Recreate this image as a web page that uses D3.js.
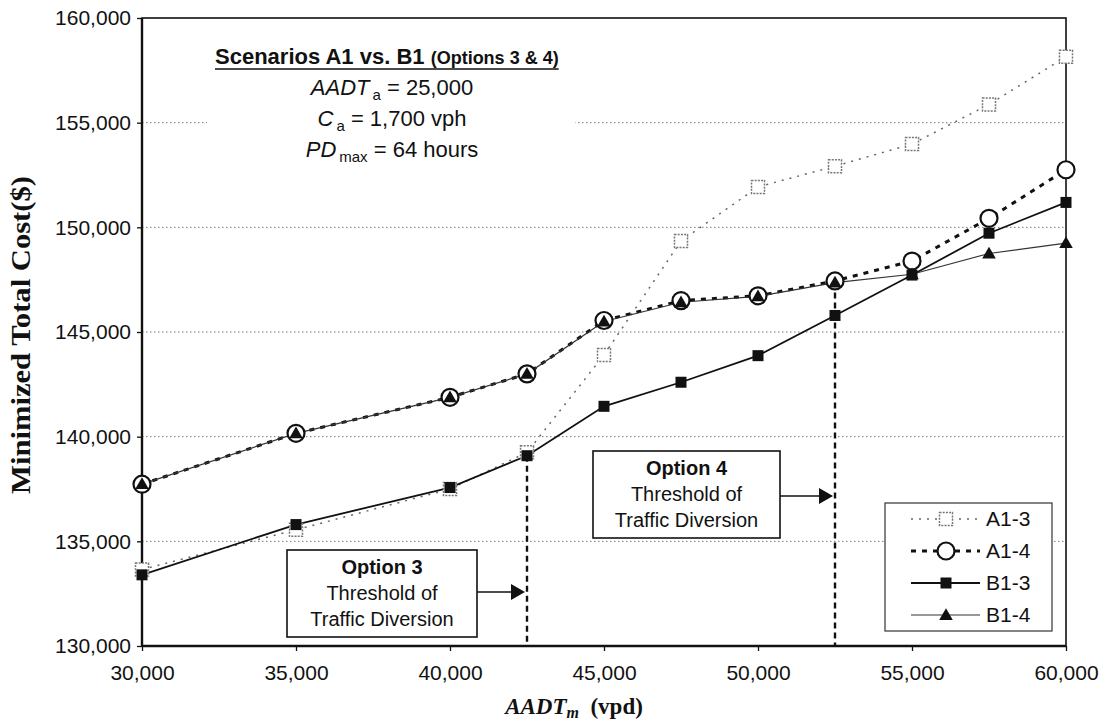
<!DOCTYPE html>
<html><head><meta charset="utf-8">
<script src="https://cdn.jsdelivr.net/npm/d3@7"></script>
<style>body{margin:0;background:#fff}</style>
</head><body>
<svg id="chart" width="1111" height="725"></svg>
<script>
// ---- data ----
const xValues  = [30000,35000,40000,42500,45000,47500,50000,52500,55000,57500,60000];
const seriesA13 = [133650,135550,137500,139250,143900,149350,151930,152920,153980,155870,158150];
const seriesA14 = [137730,140160,141880,143000,145550,146500,146730,147440,148390,150430,152750];
const seriesB13 = [133400,135800,137570,139090,141450,142600,143870,145790,147720,149720,151190];
const seriesB14 = [137730,140160,141880,143000,145500,146420,146700,147360,147760,148750,149250];
const seriesNames = ["A1-3","A1-4","B1-3","B1-4"];
const xTicks = [30000,35000,40000,45000,50000,55000,60000];
const yTicks = [130000,135000,140000,145000,150000,155000,160000];
const thresholdX = [42500, 52500];
const thresholdY = [139090, 147360];
const optionTitles = ["Option 3","Option 4"];
const optionLines = ["Threshold of","Traffic Diversion"];

// ---- layout ----
const sans = "'Liberation Sans', Arial, sans-serif";
const serif = "'Liberation Serif', 'Times New Roman', serif";
const L = 142, R = 1066, T = 18, B = 646;
const svg = d3.select("#chart");
const x = d3.scaleLinear().domain([30000,60000]).range([L,R]);
const y = d3.scaleLinear().domain([130000,160000]).range([B,T]);

// gridlines
svg.append("g").selectAll("line").data(yTicks.slice(1,-1)).join("line")
  .attr("x1",L).attr("x2",R).attr("y1",d=>y(d)).attr("y2",d=>y(d))
  .attr("stroke","#777").attr("stroke-width",1).attr("stroke-dasharray","1.5,2.5");

// title block background (covers gridline)
svg.append("rect").attr("x",207).attr("y",32).attr("width",368).attr("height",135).attr("fill","#fff");

// axes
const xAxis = svg.append("g").attr("transform",`translate(0,${B})`)
  .call(d3.axisBottom(x).tickValues(xTicks).tickFormat(d3.format(",")).tickSize(5).tickPadding(14));
const yAxis = svg.append("g").attr("transform",`translate(${L},0)`)
  .call(d3.axisLeft(y).tickValues(yTicks).tickFormat(d3.format(",")).tickSize(5).tickPadding(6));
[xAxis,yAxis].forEach(g=>{
  g.select(".domain").remove();
  g.selectAll("text").attr("font-family",sans).attr("font-size",21).attr("fill","#111");
  g.selectAll("line").attr("stroke","#111").attr("stroke-width",1.3);
});

// frame
svg.append("rect").attr("x",L).attr("y",T).attr("width",R-L).attr("height",B-T)
  .attr("fill","none").attr("stroke","#111").attr("stroke-width",1.6);
svg.append("line").attr("x1",L).attr("x2",L).attr("y1",T).attr("y2",B).attr("stroke","#111").attr("stroke-width",2.4);
svg.append("line").attr("x1",L).attr("x2",R).attr("y1",B).attr("y2",B).attr("stroke","#111").attr("stroke-width",2.4);

// axis titles
svg.append("text").attr("transform","translate(30,335) rotate(-90)").attr("text-anchor","middle")
  .attr("font-family",serif).attr("font-weight","bold").attr("font-size",27).attr("fill","#111")
  .attr("textLength",318).attr("lengthAdjust","spacingAndGlyphs")
  .text("Minimized Total Cost($)");
const xt = svg.append("text").attr("x",574).attr("y",714).attr("text-anchor","middle")
  .attr("font-family",serif).attr("font-weight","bold").attr("font-size",23).attr("fill","#111");
xt.append("tspan").attr("font-style","italic").text("AADT");
xt.append("tspan").attr("font-style","italic").attr("font-size",16).attr("dy",4).text("m");
xt.append("tspan").attr("dy",-4).text("\u00a0\u00a0(vpd)");

// threshold dashed lines
svg.append("g").selectAll("line").data(thresholdX).join("line")
  .attr("x1",d=>x(d)).attr("x2",d=>x(d)).attr("y1",(d,i)=>y(thresholdY[i])).attr("y2",B)
  .attr("stroke","#111").attr("stroke-width",2.4).attr("stroke-dasharray","6,4");

// series
const series = [
  {name:seriesNames[0], v:seriesA13, stroke:"#666", sw:1.5, dash:"2,6"},
  {name:seriesNames[1], v:seriesA14, stroke:"#111", sw:3, dash:"5,6"},
  {name:seriesNames[2], v:seriesB13, stroke:"#111", sw:1.8, dash:null},
  {name:seriesNames[3], v:seriesB14, stroke:"#333", sw:1.2, dash:null},
];
const line = d3.line().x(d=>x(d[0])).y(d=>y(d[1]));
series.forEach(s=>{
  svg.append("path").datum(xValues.map((xv,i)=>[xv,s.v[i]]))
    .attr("d",line).attr("fill","none").attr("stroke",s.stroke).attr("stroke-width",s.sw)
    .attr("stroke-dasharray",s.dash);
});
function marker(g, k, cx, cy){
  if(k===0) g.append("rect").attr("x",cx-6.5).attr("y",cy-6.5).attr("width",13).attr("height",13)
      .attr("fill","#fff").attr("stroke","#777").attr("stroke-width",1.5).attr("stroke-dasharray","2,1.2");
  else if(k===1) g.append("circle").attr("cx",cx).attr("cy",cy).attr("r",8.5)
      .attr("fill","#fff").attr("stroke","#111").attr("stroke-width",2.2);
  else if(k===2) g.append("rect").attr("x",cx-5.5).attr("y",cy-5.5).attr("width",11).attr("height",11).attr("fill","#111");
  else g.append("path").attr("transform",`translate(${cx},${cy+1})`)
      .attr("d",d3.symbol(d3.symbolTriangle,80)()).attr("fill","#111");
}
series.forEach((s,k)=>{
  const g = svg.append("g");
  xValues.forEach((xv,i)=>marker(g,k,x(xv),y(s.v[i])));
});

// option boxes
const boxes = [{x:287,y:550,w:190,h:87},{x:593,y:451,w:187,h:87}];
const arrowY = [592, 496];
boxes.forEach((b,i)=>{
  svg.append("rect").attr("x",b.x).attr("y",b.y).attr("width",b.w).attr("height",b.h)
    .attr("fill","#fff").attr("stroke","#111").attr("stroke-width",1.6);
  const cx = b.x+b.w/2;
  svg.append("text").attr("x",cx).attr("y",b.y+24).attr("text-anchor","middle").attr("font-family",sans)
    .attr("font-weight","bold").attr("font-size",20).attr("fill","#111").text(optionTitles[i]);
  optionLines.forEach((t,j)=>svg.append("text").attr("x",cx).attr("y",b.y+50+j*26).attr("text-anchor","middle")
    .attr("font-family",sans).attr("font-size",20).attr("fill","#111").text(t));
  const tip = x(thresholdX[i]) - 2;
  svg.append("line").attr("x1",b.x+b.w).attr("x2",tip-10).attr("y1",arrowY[i]).attr("y2",arrowY[i])
    .attr("stroke","#111").attr("stroke-width",1.6);
  svg.append("path").attr("d",`M${tip},${arrowY[i]} L${tip-14},${arrowY[i]-8} L${tip-14},${arrowY[i]+8} Z`).attr("fill","#111");
});

// title block
const tb = svg.append("text").attr("x",215).attr("y",64).attr("font-family",sans).attr("font-weight","bold").attr("fill","#111");
tb.append("tspan").attr("font-size",22).text("Scenarios A1 vs. B1 ");
tb.append("tspan").attr("font-size",18).text("(Options 3 & 4)");
const bb = tb.node().getBBox();
svg.append("line").attr("x1",bb.x).attr("x2",bb.x+bb.width).attr("y1",69).attr("y2",69).attr("stroke","#111").attr("stroke-width",1.6);
const params = [["AADT","a"," = 25,000"],["C","a"," = 1,700 vph"],["PD","max"," = 64 hours"]];
params.forEach((p,i)=>{
  const t = svg.append("text").attr("x",392).attr("y",95+i*31).attr("text-anchor","middle")
    .attr("font-family",sans).attr("font-size",22).attr("fill","#111");
  t.append("tspan").attr("font-style","italic").text(p[0]);
  t.append("tspan").attr("font-size",15).attr("dy",5).text("\u2009"+p[1]);
  t.append("tspan").attr("dy",-5).text(p[2]);
});

// legend
svg.append("rect").attr("x",885).attr("y",503).attr("width",167).attr("height",128)
  .attr("fill","#fff").attr("stroke","#333").attr("stroke-width",1.2);
series.forEach((s,k)=>{
  const ly = 519 + k*32;
  svg.append("line").attr("x1",911).attr("x2",980).attr("y1",ly).attr("y2",ly)
    .attr("stroke",s.stroke).attr("stroke-width",s.sw).attr("stroke-dasharray",s.dash);
  marker(svg,k,946,ly);
  svg.append("text").attr("x",986).attr("y",ly).attr("dy","0.35em").attr("font-family",sans)
    .attr("font-size",21).attr("fill","#111").text(s.name);
});
</script>
</body></html>
